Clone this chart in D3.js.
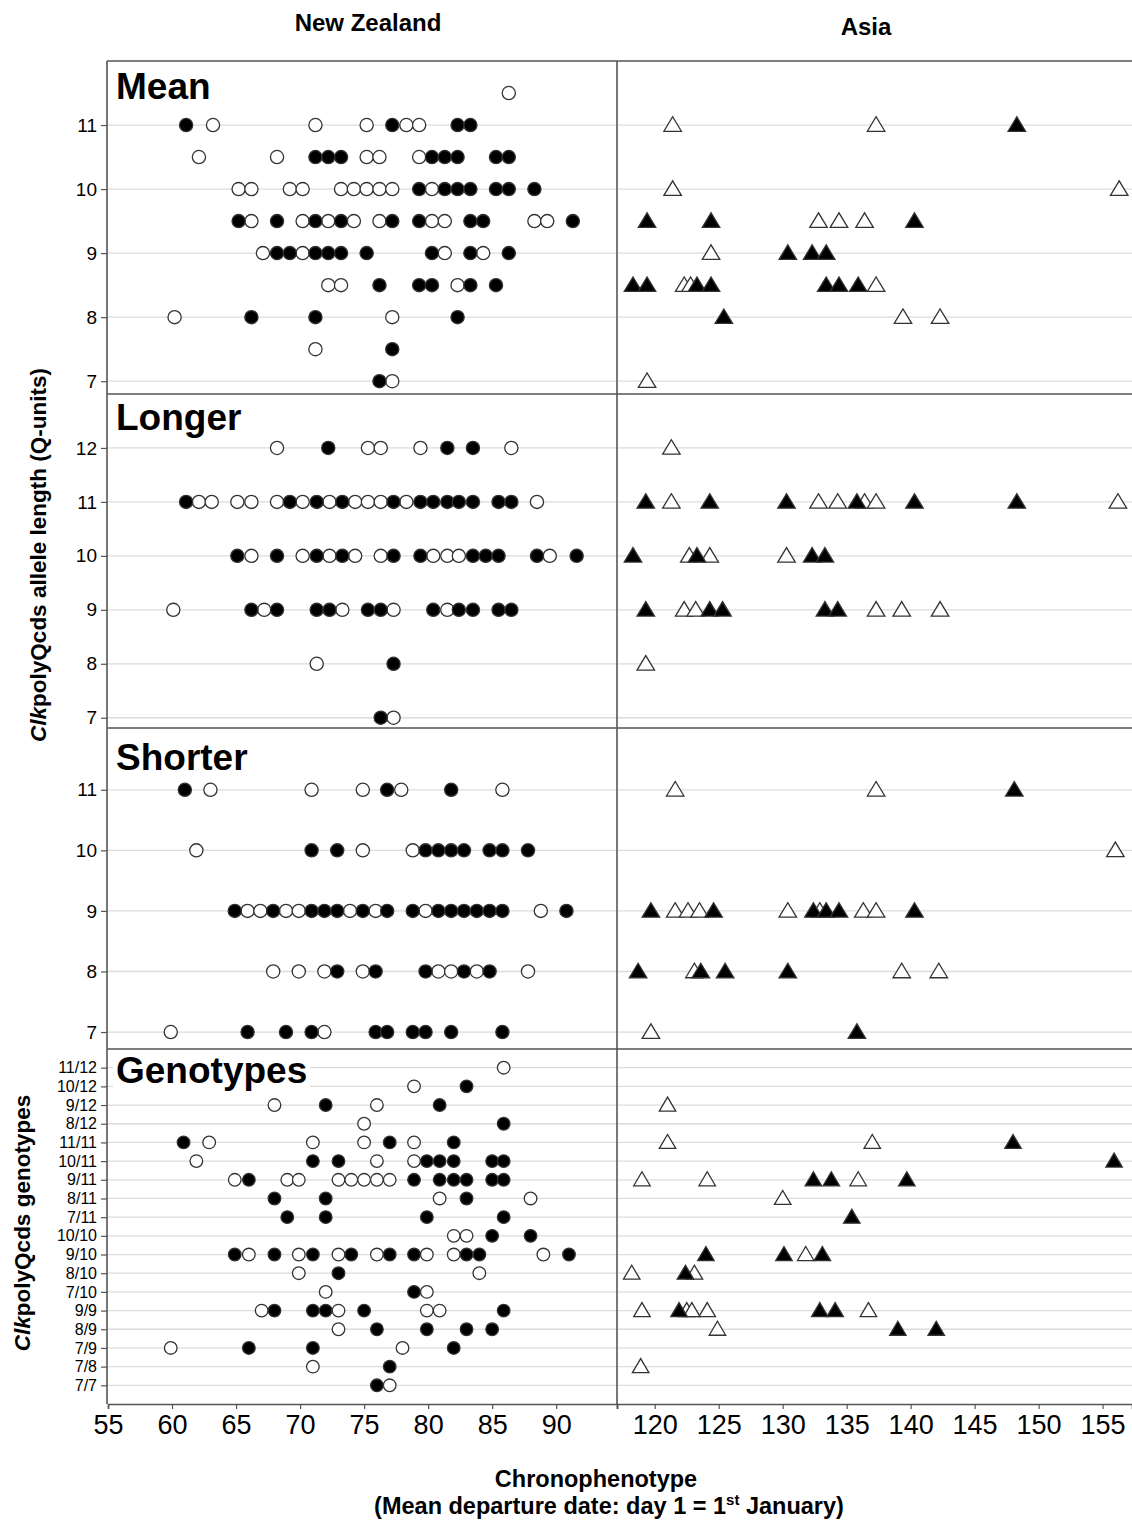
<!DOCTYPE html>
<html><head><meta charset="utf-8">
<script src="https://cdn.jsdelivr.net/npm/d3@7"></script>
<style>
body{margin:0;background:#fff;}
svg text{font-family:"Liberation Sans",Arial,sans-serif;fill:#000;}
</style></head><body>
<svg id="chart" width="1132" height="1522"></svg>
<script>
// ---------------- DATA ----------------
const xTicksNZ = [55, 60, 65, 70, 75, 80, 85, 90];
const xTicksAsia = [120, 125, 130, 135, 140, 145, 150, 155];
const lengthTicksMean = [7, 8, 9, 10, 11];
const lengthTicksLonger = [7, 8, 9, 10, 11, 12];
const lengthTicksShorter = [7, 8, 9, 10, 11];
const genotypeCategories = ["11/12","10/12","9/12","8/12","11/11","10/11","9/11","8/11","7/11",
  "10/10","9/10","8/10","7/10","9/9","8/9","7/9","7/8","7/7"];

// rows: y value (allele length or genotype), filled marks, open marks (x = mean departure day)
const meanNZ = [
  {y: 11.5, filled: [], open: [86.3]},
  {y: 11, filled: [61.1, 77.2, 82.3, 83.3], open: [63.2, 71.2, 75.2, 78.3, 79.3]},
  {y: 10.5, filled: [71.2, 72.2, 73.2, 80.3, 81.3, 82.3, 85.3, 86.3], open: [62.1, 68.2, 75.2, 76.2, 79.3]},
  {y: 10, filled: [79.3, 81.3, 82.3, 83.3, 85.3, 86.3, 88.3], open: [65.2, 66.2, 69.2, 70.2, 73.2, 74.2, 75.2, 76.2, 77.2, 80.3]},
  {y: 9.5, filled: [65.2, 68.2, 71.2, 73.2, 77.2, 79.3, 83.3, 84.3, 91.3], open: [66.2, 70.2, 72.2, 74.2, 76.2, 80.3, 81.3, 88.3, 89.3]},
  {y: 9, filled: [68.2, 69.2, 71.2, 72.2, 73.2, 75.2, 80.3, 83.3, 86.3], open: [67.1, 70.2, 81.3, 84.3]},
  {y: 8.5, filled: [76.2, 79.3, 80.3, 83.3, 85.3], open: [72.2, 73.2, 82.3]},
  {y: 8, filled: [66.2, 71.2, 82.3], open: [60.2, 77.2]},
  {y: 7.5, filled: [77.2], open: [71.2]},
  {y: 7, filled: [76.2], open: [77.2]}
];
const meanAsia = [
  {y: 11, filled: [148.3], open: [121.4, 137.3]},
  {y: 10, filled: [], open: [121.4, 156.3]},
  {y: 9.5, filled: [119.4, 124.4, 140.3], open: [132.8, 134.4, 136.4]},
  {y: 9, filled: [130.4, 132.3, 133.4], open: [124.4]},
  {y: 8.5, filled: [118.3, 119.4, 123.3, 124.4, 133.4, 134.4, 135.9], open: [122.3, 122.8, 137.3]},
  {y: 8, filled: [125.4], open: [139.4, 142.3]},
  {y: 7, filled: [], open: [119.4]}
];
const longerNZ = [
  {y: 12, filled: [72.2, 81.5, 83.5], open: [68.2, 75.3, 76.3, 79.4, 86.5]},
  {y: 11, filled: [61.1, 69.2, 71.3, 73.3, 77.3, 79.4, 80.4, 81.5, 82.4, 83.5, 85.5, 86.5], open: [62.1, 63.1, 65.1, 66.2, 68.2, 70.2, 72.3, 74.3, 75.3, 76.3, 78.3, 88.5]},
  {y: 10, filled: [65.1, 68.2, 71.3, 73.3, 77.3, 79.4, 83.5, 84.5, 85.5, 88.5, 91.6], open: [66.2, 70.2, 72.3, 74.3, 76.3, 80.4, 81.5, 82.4, 89.5]},
  {y: 9, filled: [66.2, 68.2, 71.3, 72.3, 75.3, 76.3, 80.4, 82.4, 83.5, 85.5, 86.5], open: [60.1, 67.2, 73.3, 77.3, 81.5]},
  {y: 8, filled: [77.3], open: [71.3]},
  {y: 7, filled: [76.3], open: [77.3]}
];
const longerAsia = [
  {y: 12, filled: [], open: [121.3]},
  {y: 11, filled: [119.3, 124.3, 130.3, 135.8, 140.3, 148.3], open: [121.3, 132.8, 134.3, 136.4, 137.3, 156.2]},
  {y: 10, filled: [118.3, 123.3, 132.3, 133.3], open: [122.7, 124.3, 130.3]},
  {y: 9, filled: [119.3, 124.3, 125.3, 133.3, 134.3], open: [122.3, 123.2, 137.3, 139.3, 142.3]},
  {y: 8, filled: [], open: [119.3]}
];
const shorterNZ = [
  {y: 11, filled: [61.0, 76.8, 81.8], open: [63.0, 70.9, 74.9, 77.9, 85.8]},
  {y: 10, filled: [70.9, 72.9, 79.8, 80.8, 81.8, 82.8, 84.8, 85.8, 87.8], open: [61.9, 74.9, 78.8]},
  {y: 9, filled: [64.9, 67.9, 70.9, 71.9, 72.9, 74.9, 76.8, 78.8, 80.8, 81.8, 82.8, 83.8, 84.8, 85.8, 90.8], open: [65.9, 66.9, 68.9, 69.9, 73.9, 75.9, 79.8, 88.8]},
  {y: 8, filled: [72.9, 75.9, 79.8, 82.8, 84.8], open: [67.9, 69.9, 71.9, 74.9, 80.8, 81.8, 83.8, 87.8]},
  {y: 7, filled: [65.9, 68.9, 70.9, 75.9, 76.8, 78.8, 79.8, 81.8, 85.8], open: [59.9, 71.9]}
];
const shorterAsia = [
  {y: 11, filled: [148.1], open: [121.6, 137.3]},
  {y: 10, filled: [], open: [156.0]},
  {y: 9, filled: [119.7, 124.6, 132.4, 133.4, 134.4, 140.3], open: [121.6, 122.6, 123.5, 130.4, 132.9, 136.3, 137.3]},
  {y: 8, filled: [118.7, 123.6, 125.5, 130.4], open: [123.1, 139.3, 142.2]},
  {y: 7, filled: [135.8], open: [119.7]}
];
const genotypeNZ = [
  {y: "11/12", filled: [], open: [85.9]},
  {y: "10/12", filled: [83.0], open: [78.9]},
  {y: "9/12", filled: [72.0, 80.9], open: [68.0, 76.0]},
  {y: "8/12", filled: [85.9], open: [75.0]},
  {y: "11/11", filled: [60.9, 77.0, 82.0], open: [62.9, 71.0, 75.0, 78.9]},
  {y: "10/11", filled: [71.0, 73.0, 79.9, 80.9, 82.0, 85.0, 85.9], open: [61.9, 76.0, 78.9]},
  {y: "9/11", filled: [66.0, 78.9, 80.9, 82.0, 83.0, 85.0, 85.9], open: [64.9, 69.0, 69.9, 73.0, 74.0, 75.0, 76.0, 77.0]},
  {y: "8/11", filled: [68.0, 72.0, 83.0], open: [80.9, 88.0]},
  {y: "7/11", filled: [69.0, 72.0, 79.9, 85.9], open: []},
  {y: "10/10", filled: [85.0, 88.0], open: [82.0, 83.0]},
  {y: "9/10", filled: [64.9, 68.0, 71.0, 74.0, 77.0, 78.9, 83.0, 84.0, 91.0], open: [66.0, 69.9, 73.0, 76.0, 79.9, 82.0, 89.0]},
  {y: "8/10", filled: [73.0], open: [69.9, 84.0]},
  {y: "7/10", filled: [78.9], open: [72.0, 79.9]},
  {y: "9/9", filled: [68.0, 71.0, 72.0, 75.0, 85.9], open: [67.0, 73.0, 79.9, 80.9]},
  {y: "8/9", filled: [76.0, 79.9, 83.0, 85.0], open: [73.0]},
  {y: "7/9", filled: [66.0, 71.0, 82.0], open: [59.9, 78.0]},
  {y: "7/8", filled: [77.0], open: [71.0]},
  {y: "7/7", filled: [76.0], open: [77.0]}
];
const genotypeAsia = [
  {y: "9/12", filled: [], open: [121.0]},
  {y: "11/11", filled: [148.0], open: [121.0, 137.0]},
  {y: "10/11", filled: [155.9], open: []},
  {y: "9/11", filled: [132.4, 133.8, 139.7], open: [119.0, 124.1, 135.9]},
  {y: "8/11", filled: [], open: [130.0]},
  {y: "7/11", filled: [135.4], open: []},
  {y: "9/10", filled: [124.0, 130.1, 133.1], open: [131.8]},
  {y: "8/10", filled: [122.4], open: [118.2, 123.1]},
  {y: "9/9", filled: [121.9, 132.9, 134.1], open: [119.0, 122.5, 122.9, 124.1, 136.7]},
  {y: "8/9", filled: [139.0, 142.0], open: [124.9]},
  {y: "7/8", filled: [], open: [118.9]}
];

// ---------------- LAYOUT ----------------
const svg = d3.select("#chart");
const plotL = 107, divX = 617, plotR = 1133;
const bounds = [61, 394, 728, 1049, 1404];
const xNZ = d3.scaleLinear().domain([55, 94.75]).range([108, divX]);
const xAS = d3.scaleLinear().domain([117.05, 157.3]).range([divX, 1132]);
const frameCol = "#555", gridCol = "#dcdcdc";

const panels = [
  {label: "Mean", nz: meanNZ, as: meanAsia, ticks: lengthTicksMean, dom: [6.8, 12.0], top: bounds[0], bot: bounds[1], labelY: 99},
  {label: "Longer", nz: longerNZ, as: longerAsia, ticks: lengthTicksLonger, dom: [6.81, 13.0], top: bounds[1], bot: bounds[2], labelY: 430},
  {label: "Shorter", nz: shorterNZ, as: shorterAsia, ticks: lengthTicksShorter, dom: [6.72, 12.02], top: bounds[2], bot: bounds[3], labelY: 770},
  {label: "Genotypes", nz: genotypeNZ, as: genotypeAsia, cat: genotypeCategories, top: bounds[3], bot: bounds[4], labelY: 1083}
];

function triPath(cx, cy, w, h) {
  return `M${cx - w/2},${cy + h/2}L${cx + w/2},${cy + h/2}L${cx},${cy - h/2}Z`;
}

panels.forEach(p => {
  const g = svg.append("g");
  let y, tickVals;
  if (p.cat) {
    y = d3.scalePoint().domain(p.cat).range([p.top, p.bot]).padding(1);
    tickVals = p.cat;
  } else {
    y = d3.scaleLinear().domain(p.dom).range([p.bot, p.top]);
    tickVals = p.ticks;
  }
  // gridlines
  g.append("g").selectAll("line").data(tickVals).join("line")
    .attr("x1", plotL).attr("x2", plotR)
    .attr("y1", d => y(d)).attr("y2", d => y(d))
    .attr("stroke", gridCol).attr("stroke-width", 1.3);
  // left axis
  const ax = d3.axisLeft(y).tickValues(tickVals).tickSize(6).tickPadding(4);
  if (!p.cat) ax.tickFormat(d3.format("d"));
  const axG = g.append("g").attr("transform", `translate(${plotL},0)`).call(ax);
  axG.select(".domain").remove();
  axG.selectAll(".tick line").attr("stroke", "#555").attr("stroke-width", 1.2);
  axG.selectAll(".tick text").attr("font-size", p.cat ? 16 : 19)
    .style("font-family", "'Liberation Sans',Arial,sans-serif").attr("fill", "#000");

  // panel label with white backing
  const labG = g.append("g");
  const lab = labG.append("text").attr("x", 116).attr("y", p.labelY)
    .attr("font-size", 37).attr("font-weight", "bold").text(p.label);
  const bb = lab.node().getBBox();
  labG.insert("rect", () => lab.node()).attr("x", bb.x - 3).attr("y", bb.y + 4)
    .attr("width", bb.width + 6).attr("height", bb.height - 4).attr("fill", "#fff");

  const cy = v => y(v);
  const r = p.cat ? 6.3 : 6.6;
  // NZ circles: open first, then filled
  const nzPts = [];
  p.nz.forEach(row => row.open.forEach(d => nzPts.push({x: d, y: row.y, f: false})));
  p.nz.forEach(row => row.filled.forEach(d => nzPts.push({x: d, y: row.y, f: true})));
  g.append("g").selectAll("circle").data(nzPts).join("circle")
    .attr("cx", d => xNZ(d.x)).attr("cy", d => cy(d.y)).attr("r", r)
    .attr("fill", d => d.f ? "#000" : "#fff").attr("stroke", "#333").attr("stroke-width", 1.3);

  // Asia triangles
  const asPts = [];
  p.as.forEach(row => row.open.forEach(d => asPts.push({x: d, y: row.y, f: false})));
  p.as.forEach(row => row.filled.forEach(d => asPts.push({x: d, y: row.y, f: true})));
  const tw = p.cat ? 16.5 : 17.5, th = p.cat ? 14 : 14.5;
  g.append("g").selectAll("path").data(asPts).join("path")
    .attr("d", d => triPath(xAS(d.x), cy(d.y) - 1, tw, th))
    .attr("fill", d => d.f ? "#000" : "#fff").attr("stroke", "#333").attr("stroke-width", 1.3);
});

// frame and separators
const frame = svg.append("g").attr("stroke", frameCol).attr("stroke-width", 1.6).attr("fill", "none");
frame.append("line").attr("x1", plotL).attr("x2", plotR).attr("y1", bounds[0]).attr("y2", bounds[0]);
frame.append("line").attr("x1", plotL).attr("x2", plotL).attr("y1", bounds[0]).attr("y2", bounds[4]);
[bounds[1], bounds[2], bounds[3]].forEach(b =>
  frame.append("line").attr("x1", plotL).attr("x2", plotR).attr("y1", b).attr("y2", b));
frame.append("line").attr("x1", divX).attr("x2", divX).attr("y1", bounds[0]).attr("y2", bounds[4]);

// bottom axes
function styleX(sel) {
  sel.select(".domain").attr("stroke", frameCol).attr("stroke-width", 1.6);
  sel.selectAll(".tick line").attr("stroke", "#555").attr("stroke-width", 1.2);
  sel.selectAll(".tick text").attr("font-size", 27).attr("fill", "#000")
    .style("font-family", "'Liberation Sans',Arial,sans-serif");
}
const axNZ = svg.append("g").attr("transform", `translate(0,${bounds[4]})`)
  .call(d3.axisBottom(xNZ).tickValues(xTicksNZ).tickSizeOuter(0).tickSize(5).tickPadding(6));
styleX(axNZ);
const axAS = svg.append("g").attr("transform", `translate(0,${bounds[4]})`)
  .call(d3.axisBottom(xAS).tickValues(xTicksAsia).tickSizeOuter(0).tickSize(5).tickPadding(6));
styleX(axAS);

// headers
svg.append("text").attr("x", 368).attr("y", 31).attr("text-anchor", "middle")
  .attr("font-size", 24).attr("font-weight", "bold").text("New Zealand");
svg.append("text").attr("x", 866).attr("y", 35).attr("text-anchor", "middle")
  .attr("font-size", 24).attr("font-weight", "bold").text("Asia");

// x title
svg.append("text").attr("x", 596).attr("y", 1487).attr("text-anchor", "middle")
  .attr("font-size", 23.5).attr("font-weight", "bold").text("Chronophenotype");
const t2 = svg.append("text").attr("x", 609).attr("y", 1514).attr("text-anchor", "middle")
  .attr("font-size", 23.5).attr("font-weight", "bold");
t2.append("tspan").text("(Mean departure date: day 1 = 1");
t2.append("tspan").attr("font-size", 15).attr("dy", -9).text("st");
t2.append("tspan").attr("dy", 9).text(" January)");

// y titles
const yt1 = svg.append("text").attr("transform", "translate(46,555) rotate(-90)")
  .attr("text-anchor", "middle").attr("font-size", 22.5).attr("font-weight", "bold");
yt1.append("tspan").attr("font-style", "italic").text("Clk");
yt1.append("tspan").text("polyQcds allele length (Q-units)");
const yt2 = svg.append("text").attr("transform", "translate(30,1223) rotate(-90)")
  .attr("text-anchor", "middle").attr("font-size", 22.5).attr("font-weight", "bold");
yt2.append("tspan").attr("font-style", "italic").text("Clk");
yt2.append("tspan").text("polyQcds genotypes");
</script>
</body></html>
